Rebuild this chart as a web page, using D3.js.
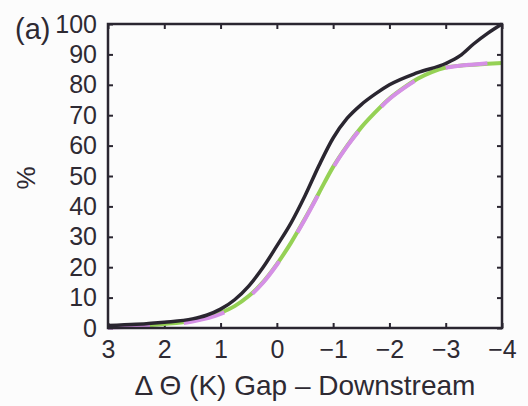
<!DOCTYPE html>
<html>
<head>
<meta charset="utf-8">
<script src="https://cdn.jsdelivr.net/npm/d3@7"></script>
<style>
  body { margin: 0; background: #fcfcfc; }
  svg { display: block; font-family: "Liberation Sans", Arial, sans-serif; }
</style>
</head>
<body>
<div id="chart"></div>
<script>
// x values (Delta Theta, K)
const xBlack = [3, 2.5, 2, 1.5, 1.25, 1, 0.75, 0.5, 0.25, 0, -0.25, -0.5, -0.75, -1, -1.25, -1.5, -1.75, -2, -2.5, -3, -3.25, -3.5, -3.75, -4];
const yBlack = [0.8, 1.2, 1.9, 3, 4.2, 6.2, 9.3, 13.8, 19.8, 27, 34.5, 43.5, 53.5, 62.5, 69, 73.5, 77, 80, 84, 87, 89.5, 93.5, 97, 100];

const xColour = [3, 2.5, 2, 1.5, 1, 0.75, 0.5, 0.25, 0, -0.25, -0.5, -0.75, -1, -1.25, -1.5, -1.75, -2, -2.25, -2.5, -2.75, -3, -3.25, -3.5, -4];
const yGreen = [0.4, 0.7, 1.3, 2.4, 5, 7.2, 10.5, 15, 21, 28, 36, 44.5, 53, 60, 66, 71, 75.5, 79, 82, 84.2, 85.7, 86.3, 86.6, 87.2];
const yPurple = [0.2, 0.5, 1.0, 2.1, 4.6, 6.9, 10.2, 14.8, 20.8, 27.8, 35.8, 44.3, 52.8, 59.8, 65.8, 70.8, 75.3, 78.8, 81.8, 84, 85.6, 86.3, 86.7, 87.5];

const xTicks = [3, 2, 1, 0, -1, -2, -3, -4];
const yTicks = [0, 10, 20, 30, 40, 50, 60, 70, 80, 90, 100];

const width = 528, height = 406;
const margin = { top: 24, right: 26, bottom: 78, left: 108 };

const svg = d3.select('#chart').append('svg')
    .attr('width', width)
    .attr('height', height);

const x = d3.scaleLinear().domain([3, -4]).range([margin.left, width - margin.right]);
const y = d3.scaleLinear().domain([0, 100]).range([height - margin.bottom, margin.top]);

const ink = '#2a2630';

// ticks on all four sides, pointing in
const fmt = d => d < 0 ? '\u2212' + Math.abs(d) : d;
svg.append('g')
    .attr('transform', `translate(0,${y(0)})`)
    .call(d3.axisBottom(x).tickValues(xTicks).tickSizeInner(-5).tickSizeOuter(0).tickPadding(12).tickFormat(fmt))
    .call(g => g.select('.domain').remove());
svg.append('g')
    .attr('transform', `translate(0,${y(100)})`)
    .call(d3.axisTop(x).tickValues(xTicks).tickSizeInner(-5).tickSizeOuter(0).tickFormat(''))
    .call(g => g.select('.domain').remove());
svg.append('g')
    .attr('transform', `translate(${x(3)},0)`)
    .call(d3.axisLeft(y).tickValues(yTicks).tickSizeInner(-5).tickSizeOuter(0).tickPadding(11))
    .call(g => g.select('.domain').remove());
svg.append('g')
    .attr('transform', `translate(${x(-4)},0)`)
    .call(d3.axisRight(y).tickValues(yTicks).tickSizeInner(-5).tickSizeOuter(0).tickFormat(''))
    .call(g => g.select('.domain').remove());

svg.selectAll('.tick line').attr('stroke', ink).attr('stroke-width', 2);
svg.selectAll('.tick text').attr('fill', '#2e2a33').style('font-size', '25px');

// lines
const line = (xs, ys) => d3.line().curve(d3.curveMonotoneX)
    .x((d, i) => x(xs[i])).y(d => y(d))(ys);

svg.append('path')
    .attr('d', line(xColour, yGreen))
    .attr('fill', 'none').attr('stroke', '#95d155').attr('stroke-width', 4);
svg.append('path')
    .attr('d', line(xColour, yPurple))
    .attr('fill', 'none').attr('stroke', '#d590e6').attr('stroke-width', 4)
    .attr('stroke-dasharray', '42 34');
svg.append('path')
    .attr('d', line(xBlack, yBlack))
    .attr('fill', 'none').attr('stroke', ink).attr('stroke-width', 3.5);

// frame
svg.append('rect')
    .attr('x', x(3)).attr('y', y(100))
    .attr('width', x(-4) - x(3)).attr('height', y(0) - y(100))
    .attr('fill', 'none').attr('stroke', ink).attr('stroke-width', 2.5);

// labels
svg.append('text')
    .attr('x', 305).attr('y', 395)
    .attr('text-anchor', 'middle')
    .attr('fill', '#2e2a33')
    .style('font-size', '28px')
    .text('\u0394 \u0398 (K) Gap \u2013 Downstream');

svg.append('text')
    .attr('transform', 'translate(35,178) rotate(-90)')
    .attr('text-anchor', 'middle')
    .attr('fill', '#2e2a33')
    .style('font-size', '26px')
    .text('%');

svg.append('text')
    .attr('x', 15).attr('y', 39)
    .attr('fill', '#2e2a33')
    .style('font-size', '29px')
    .text('(a)');
</script>
</body>
</html>
